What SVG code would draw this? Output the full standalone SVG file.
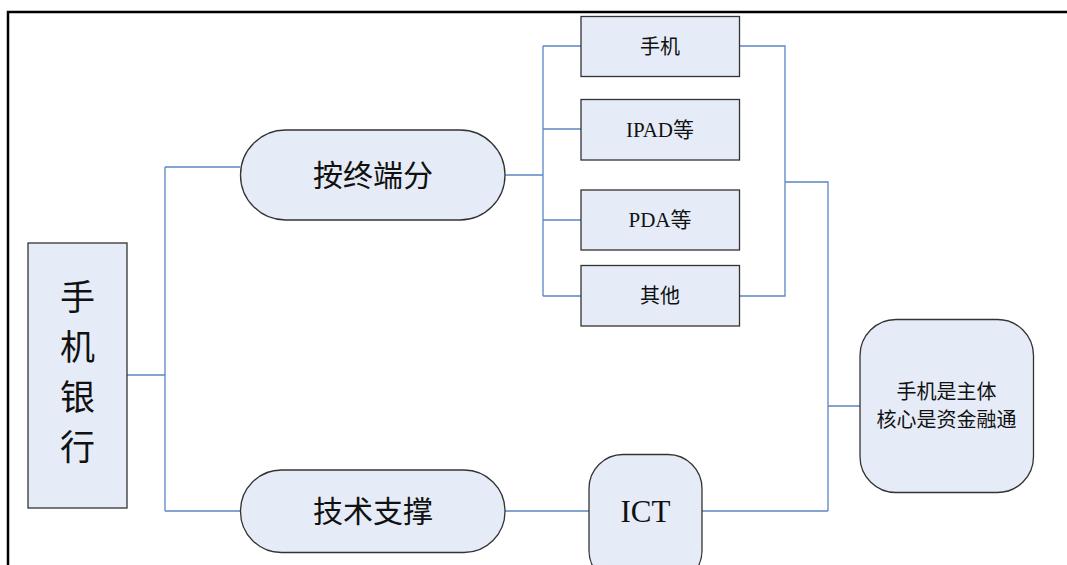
<svg xmlns="http://www.w3.org/2000/svg" width="1067" height="565" viewBox="0 0 1067 565">
<style>
.node{fill:#E6ECF7;stroke:#333;stroke-width:1.3}
.conn{fill:none;stroke:#5B86C5;stroke-width:1.3}
.t{font-family:"Liberation Serif","Noto Sans CJK SC",serif;fill:#111;text-anchor:middle;dominant-baseline:central}
.frame{fill:none;stroke:#000;stroke-width:2.5}
</style>
<rect width="1067" height="565" fill="#fff"/>
<path class="frame" d="M8,565 V12 H1067"/>
<g id="connectors">
<path class="conn" d="M127,375 H165 M165,167 V511 M165,167 H240 M165,511 H240"/>
<path class="conn" d="M505,175 H543 M543,46 V296 M543,46 H581 M543,129 H581 M543,220 H581 M543,296 H581"/>
<path class="conn" d="M739,46 H785 V296 H735 M785,182 H828 V511 M828,406 H860"/>
<path class="conn" d="M505,511 H589 M702,511 H828"/>
</g>
<g id="n-bank">
<rect class="node" x="28" y="243" width="99" height="265"/>
<text class="t" x="77.5" y="298" font-size="35">手</text>
<text class="t" x="77.5" y="348" font-size="35">机</text>
<text class="t" x="77.5" y="398" font-size="35">银</text>
<text class="t" x="77.5" y="448" font-size="35">行</text>
</g>
<g id="n-terminal">
<rect class="node" x="240.5" y="130" width="264.5" height="90" rx="45" ry="45"/>
<text class="t" x="373" y="175" font-size="30">按终端分</text>
</g>
<g id="n-tech">
<rect class="node" x="240.5" y="470" width="264.5" height="82.5" rx="41" ry="41"/>
<text class="t" x="373" y="511" font-size="30">技术支撑</text>
</g>
<g id="n-phone">
<rect class="node" x="581" y="16.5" width="158.5" height="60"/>
<text class="t" x="660" y="46.5" font-size="20">手机</text>
</g>
<g id="n-ipad">
<rect class="node" x="581" y="99.5" width="158.5" height="60.5"/>
<text class="t" x="660" y="130" font-size="21">IPAD等</text>
</g>
<g id="n-pda">
<rect class="node" x="581" y="190" width="158.5" height="60"/>
<text class="t" x="660" y="220" font-size="21">PDA等</text>
</g>
<g id="n-other">
<rect class="node" x="581" y="265.5" width="158.5" height="60.5"/>
<text class="t" x="660" y="296" font-size="20">其他</text>
</g>
<g id="n-ict">
<rect class="node" x="589" y="454.5" width="113" height="130" rx="34" ry="34"/>
<text class="t" x="645.5" y="511" font-size="31">ICT</text>
</g>
<g id="n-core">
<rect class="node" x="860" y="319.5" width="173.5" height="173" rx="36" ry="36"/>
<text class="t" x="946.5" y="391.5" font-size="20">手机是主体</text>
<text class="t" x="946.5" y="420" font-size="20">核心是资金融通</text>
</g>
</svg>
